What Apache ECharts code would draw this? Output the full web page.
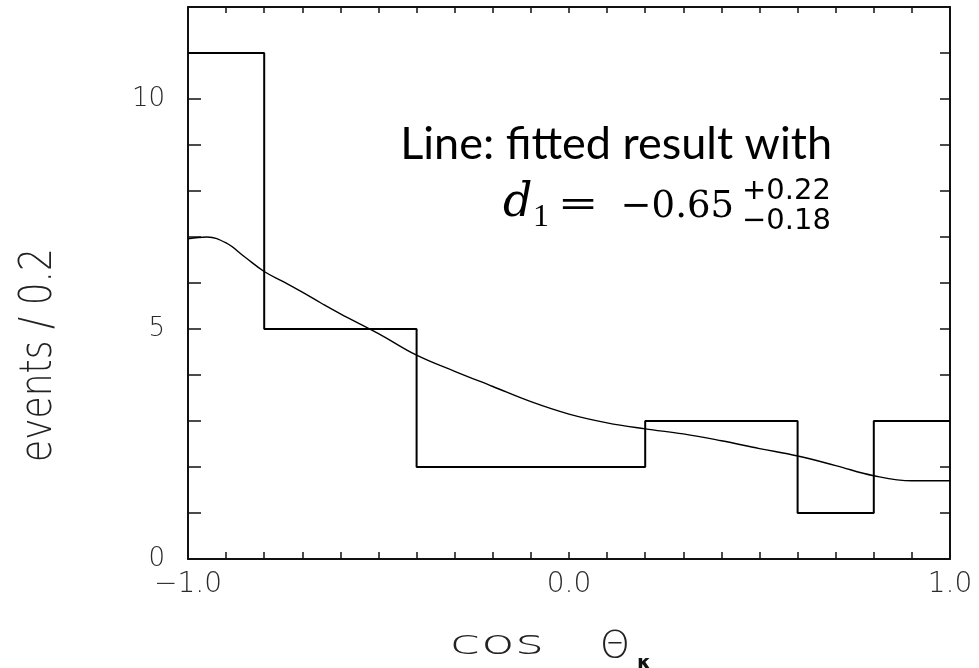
<!DOCTYPE html>
<html>
<head>
<meta charset="utf-8">
<script src="https://cdn.jsdelivr.net/npm/echarts@6/dist/echarts.min.js"></script>
<style>
  html, body { margin: 0; padding: 0; background: #fff; }
  #chart { width: 979px; height: 668px; }
</style>
</head>
<body>
<div id="chart"></div>
<script>
// Histogram of cos Θκ: bin edges (width 0.2) and event counts per bin
const binEdges = [-1.0, -0.8, -0.6, -0.4, -0.2, 0.0, 0.2, 0.4, 0.6, 0.8, 1.0];
const binCounts = [11, 5, 5, 2, 2, 2, 3, 3, 1, 3];

// Fitted distribution, sampled along cos Θκ
const fitX = [-1.0, -0.95, -0.9, -0.85, -0.8, -0.75, -0.7, -0.65, -0.6, -0.5, -0.4, -0.3, -0.2, -0.1, 0.0, 0.1, 0.2, 0.3, 0.4, 0.5, 0.6, 0.7, 0.8, 0.9, 1.0];
const fitY = [6.96, 7.00, 6.87, 6.56, 6.25, 6.03, 5.80, 5.56, 5.33, 4.90, 4.43, 4.08, 3.75, 3.42, 3.15, 2.96, 2.83, 2.72, 2.57, 2.40, 2.24, 2.03, 1.81, 1.70, 1.70];

// Tick labels
const xLabelValues = [-1, 0, 1];
const xTickLabels = ['−1.0', '0.0', '1.0'];
const yLabelValues = [0, 5, 10];
const yTickLabels = ['0', '5', '10'];

// Step line: each bin's count held from its left edge to the next edge
const histData = binEdges.map((e, i) => [e, binCounts[Math.min(i, binCounts.length - 1)]]);
const fitData = fitX.map((x, i) => [x, fitY[i]]);

function labelFor(values, labels) {
  return function (v) {
    for (let i = 0; i < values.length; i++) {
      if (Math.abs(v - values[i]) < 1e-6) return labels[i];
    }
    return '';
  };
}

const tickFont = { fontFamily: 'DejaVu Sans', fontWeight: 200, color: '#2a2a2a' };
const frame = { show: true, onZero: false, lineStyle: { color: '#111', width: 2 } };

const chart = echarts.init(document.getElementById('chart'), null, { renderer: 'canvas' });
chart.setOption({
  animation: false,
  backgroundColor: '#fff',
  grid: { left: 188, right: 29, top: 7, bottom: 109 },
  xAxis: [
    {
      type: 'value', min: -1, max: 1, interval: 0.1, position: 'bottom',
      axisLine: frame,
      axisTick: { show: true, inside: true, length: 7, lineStyle: { color: '#111', width: 1.5 } },
      axisLabel: Object.assign({ fontSize: 28, margin: 12, formatter: labelFor(xLabelValues, xTickLabels) }, tickFont),
      splitLine: { show: false }
    },
    {
      type: 'value', min: -1, max: 1, interval: 0.1, position: 'top',
      axisLine: frame,
      axisTick: { show: true, inside: true, length: 6, lineStyle: { color: '#111', width: 1.5 } },
      axisLabel: { show: false },
      splitLine: { show: false }
    }
  ],
  yAxis: [
    {
      type: 'value', min: 0, max: 12, interval: 1, position: 'left',
      axisLine: frame,
      axisTick: { show: true, inside: true, length: 13, lineStyle: { color: '#111', width: 1.5 } },
      axisLabel: Object.assign({ fontSize: 26, margin: 23, formatter: labelFor(yLabelValues, yTickLabels) }, tickFont),
      splitLine: { show: false }
    },
    {
      type: 'value', min: 0, max: 12, interval: 1, position: 'right',
      axisLine: frame,
      axisTick: { show: true, inside: true, length: 10, lineStyle: { color: '#111', width: 1.5 } },
      axisLabel: { show: false },
      splitLine: { show: false }
    }
  ],
  series: [
    {
      name: 'events', type: 'line', step: 'end', data: histData,
      xAxisIndex: 0, yAxisIndex: 0,
      symbol: 'none', lineStyle: { color: '#000', width: 2 }
    },
    {
      name: 'fit', type: 'line', smooth: 0.4, data: fitData,
      xAxisIndex: 0, yAxisIndex: 0,
      symbol: 'none', lineStyle: { color: '#000', width: 1.4 }
    }
  ],
  graphic: [
    // vertical axis title
    {
      type: 'text', x: 40, y: 355, rotation: Math.PI / 2, scaleX: 0.82,
      style: { text: 'events / 0.2', font: '200 44px "DejaVu Sans"', fill: '#222', textAlign: 'center', textVerticalAlign: 'middle' }
    },
    // horizontal axis title: cos Θκ
    {
      type: 'text', x: 497, y: 645, scaleX: 1.7,
      style: { text: 'cos', font: '200 33px "DejaVu Sans"', fill: '#222', textAlign: 'center', textVerticalAlign: 'middle' }
    },
    {
      type: 'text', x: 615, y: 647,
      style: { text: 'Θ', font: '200 38px "DejaVu Sans"', fill: '#222', textAlign: 'center', textVerticalAlign: 'middle' }
    },
    {
      type: 'text', x: 644, y: 664,
      style: { text: 'κ', font: 'bold 20px "DejaVu Sans"', fill: '#111', textAlign: 'center', textVerticalAlign: 'middle' }
    },
    // fit annotation
    {
      type: 'text', x: 832, y: 144,
      style: { text: 'Line: fitted result with', font: '45px Lato', fill: '#000', textAlign: 'right', textVerticalAlign: 'middle' }
    },
    {
      type: 'text', x: 503, y: 204,
      style: { text: 'd', font: 'italic 46px "DejaVu Serif"', fill: '#000', textAlign: 'left', textVerticalAlign: 'middle' }
    },
    {
      type: 'text', x: 533, y: 218,
      style: { text: '1', font: '32px "Liberation Serif"', fill: '#000', textAlign: 'left', textVerticalAlign: 'middle' }
    },
    {
      type: 'text', x: 578, y: 206, scaleX: 1.35,
      style: { text: '=', font: '36px "DejaVu Serif"', fill: '#000', textAlign: 'center', textVerticalAlign: 'middle' }
    },
    {
      type: 'text', x: 734, y: 207,
      style: { text: '−0.65', font: '37px "DejaVu Serif"', fill: '#000', textAlign: 'right', textVerticalAlign: 'middle' }
    },
    {
      type: 'text', x: 742, y: 191,
      style: { text: '+0.22', font: '29px "DejaVu Sans"', fill: '#000', textAlign: 'left', textVerticalAlign: 'middle' }
    },
    {
      type: 'text', x: 742, y: 221,
      style: { text: '−0.18', font: '29px "DejaVu Sans"', fill: '#000', textAlign: 'left', textVerticalAlign: 'middle' }
    }
  ]
});
</script>
</body>
</html>
